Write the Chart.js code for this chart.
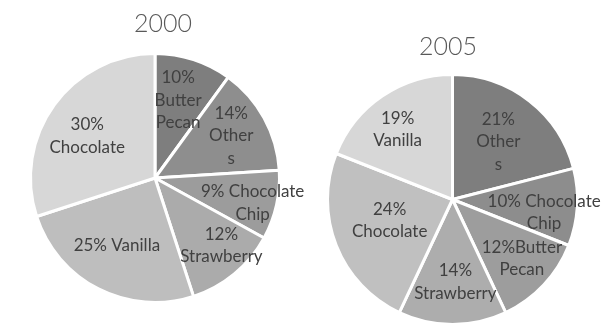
<!DOCTYPE html>
<html>
<head>
<meta charset="utf-8">
<script src="https://cdn.jsdelivr.net/npm/chart.js@4"></script>
<style>
  body { margin: 0; background: #fff; }
  #wrap { position: relative; width: 610px; height: 336px; overflow: hidden; }
  .box { position: absolute; top: 0; width: 305px; height: 336px; }
</style>
</head>
<body>
<div id="wrap">
  <div class="box" style="left:0"><canvas id="pie2000" width="305" height="336"></canvas></div>
  <div class="box" style="left:305px"><canvas id="pie2005" width="305" height="336"></canvas></div>
</div>
<script>
// Flavour shares, clockwise from 12 o'clock
let labels2000 = ["Butter Pecan", "Others", "Chocolate Chip", "Strawberry", "Vanilla", "Chocolate"];
let values2000 = [10, 14, 9, 12, 25, 30];
let colors2000 = ["#7e7e7e", "#8e8e8e", "#9c9c9c", "#ababab", "#bebebe", "#d7d7d7"];
// label lines as they wrap inside each slice
let text2000 = [["10%", "Butter", "Pecan"], ["14%", "Other", "s"], ["9% Chocolate", "Chip"],
                ["12%", "Strawberry"], ["25% Vanilla"], ["30%", "Chocolate"]];

let labels2005 = ["Others", "Chocolate Chip", "Butter Pecan", "Strawberry", "Chocolate", "Vanilla"];
let values2005 = [21, 10, 12, 14, 24, 19];
let colors2005 = ["#7e7e7e", "#8d8d8d", "#9d9d9d", "#adadad", "#c0c0c0", "#d7d7d7"];
let text2005 = [["21%", "Other", "s"], ["10% Chocolate", "Chip"], ["12%Butter", "Pecan"],
                ["14%", "Strawberry"], ["24%", "Chocolate"], ["19%", "Vanilla"]];

// where each label sits: fraction of radius, angle nudge in degrees
let place2000 = [[0.65, -1.4], [0.70, -0.2], [0.81, 1.9], [0.76, -5], [0.62, 2.6], [0.64, -4.3]];
let place2005 = [[0.59, 0.6], [0.74, 4.4], [0.73, -2.7], [0.66, -2], [0.53, 3.2], [0.71, -4]];

const FONT = "Lato, 'Open Sans', sans-serif";

// Draws the title and the wrapped labels inside the slices
const sliceLabels = {
  id: "sliceLabels",
  afterDatasetsDraw(chart, args, opts) {
    const ctx = chart.ctx;
    const arcs = chart.getDatasetMeta(0).data;
    ctx.save();
    ctx.textAlign = "center";
    ctx.textBaseline = "middle";

    ctx.fillStyle = "#595959";
    ctx.font = "300 25px " + FONT;
    ctx.fillText(opts.title, opts.titleX, opts.titleY);

    ctx.fillStyle = "#404040";
    ctx.font = "17px " + FONT;
    arcs.forEach((arc, i) => {
      const [f, nudge] = opts.place[i];
      const mid = (arc.startAngle + arc.endAngle) / 2 + nudge * Math.PI / 180;
      const x = arc.x + Math.cos(mid) * arc.outerRadius * f;
      const y = arc.y + Math.sin(mid) * arc.outerRadius * f;
      const lines = opts.text[i];
      const lh = 22.5;
      lines.forEach((line, j) => {
        ctx.fillText(line, x, y + (j - (lines.length - 1) / 2) * lh);
      });
    });
    ctx.restore();
  }
};

function makePie(id, labels, values, colors, text, place, title, titleX, titleY, padding) {
  return new Chart(document.getElementById(id), {
    type: "pie",
    data: {
      labels: labels,
      datasets: [{
        data: values,
        backgroundColor: colors,
        borderColor: "#ffffff",
        borderWidth: 3
      }]
    },
    options: {
      responsive: false,
      animation: false,
      layout: { padding: padding },
      plugins: {
        legend: { display: false },
        tooltip: { enabled: false },
        sliceLabels: { text: text, place: place, title: title, titleX: titleX, titleY: titleY }
      }
    },
    plugins: [sliceLabels]
  });
}

makePie("pie2000", labels2000, values2000, colors2000, text2000, place2000, "2000", 163, 24,
        { left: 29, right: 24, top: 52, bottom: 32 });
makePie("pie2005", labels2005, values2005, colors2005, text2005, place2005, "2005", 143, 47,
        { left: 21, right: 31, top: 73, bottom: 10 });
</script>
</body>
</html>
